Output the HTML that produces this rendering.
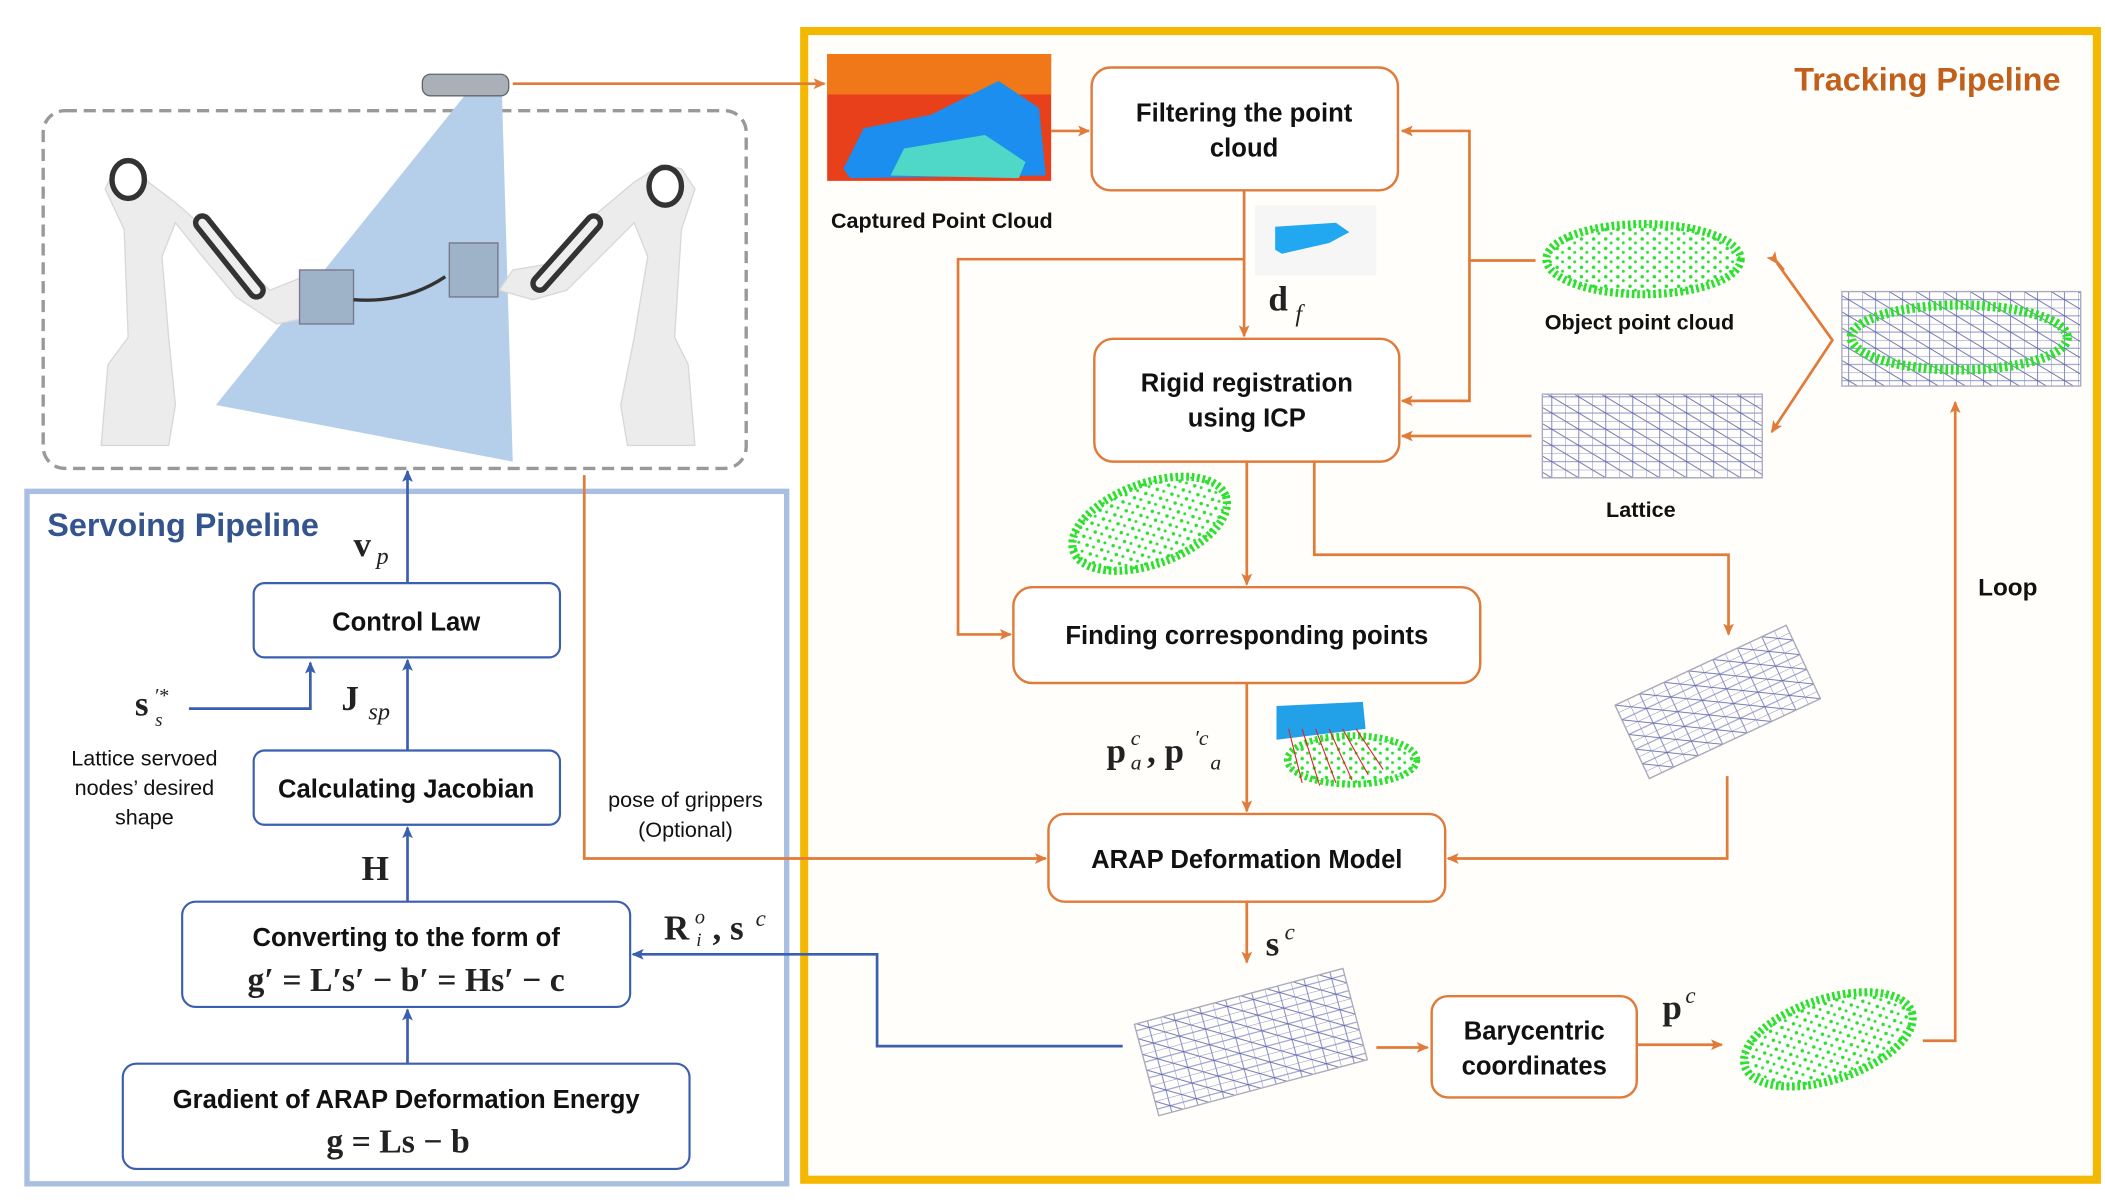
<!DOCTYPE html>
<html><head><meta charset="utf-8"><style>
html,body{margin:0;padding:0;background:#fff;}
svg{display:block;}
.t{font-family:"Liberation Sans",sans-serif;font-weight:bold;fill:#111;}
.m{font-family:"Liberation Serif",serif;font-weight:bold;fill:#222;}
.mi{font-family:"Liberation Serif",serif;font-style:italic;fill:#222;}
</style></head><body>
<svg width="2105" height="1200" viewBox="0 0 1560 889" preserveAspectRatio="none" xmlns="http://www.w3.org/2000/svg">
<defs>
<marker id="ao" markerWidth="10" markerHeight="10" refX="8" refY="5" orient="auto" markerUnits="userSpaceOnUse"><path d="M0,1 L9,5 L0,9 L2,5 z" fill="#e07b39"/></marker>
<marker id="ab" markerWidth="10" markerHeight="10" refX="8" refY="5" orient="auto" markerUnits="userSpaceOnUse"><path d="M0,1 L9,5 L0,9 L2,5 z" fill="#3b5fb0"/></marker>
<pattern id="grid" width="20" height="12" patternUnits="userSpaceOnUse"><path d="M0,0 H20 M0,6 H20 M0,0 V12 M10,0 V12" stroke="#8890c8" stroke-width="0.8" fill="none"/><path d="M0,0 L20,12" stroke="#5a60a0" stroke-width="0.6"/></pattern>
<pattern id="dots" width="9" height="7" patternUnits="userSpaceOnUse"><rect width="9" height="7" fill="#fff"/><circle cx="2" cy="2" r="1.3" fill="#2ee02e"/><circle cx="6" cy="5" r="1.1" fill="#2ee02e"/></pattern>
</defs>

<!-- Tracking pipeline frame -->
<rect x="596" y="23" width="958" height="851" fill="#fffefb" stroke="#f5b800" stroke-width="6"/>
<text x="1527" y="67" text-anchor="end" class="t" style="fill:#c0601a;font-size:24px">Tracking Pipeline</text>

<!-- Servoing frame -->
<rect x="20" y="364" width="563" height="513" fill="#fff" stroke="#a9bfe2" stroke-width="4"/>
<text x="35" y="397" class="t" style="fill:#34548f;font-size:24px">Servoing Pipeline</text>

<!-- robot scene -->
<rect x="32" y="82" width="521" height="265" rx="16" fill="#fff" stroke="#999" stroke-width="2.5" stroke-dasharray="9,5"/>
<polygon points="345,70 372,70 380,342 160,300" fill="#b5cfea"/>
<rect x="313" y="55" width="64" height="16" rx="6" fill="#aab0b8" stroke="#666" stroke-width="1"/>
<!-- left robot -->
<path d="M75,330 L80,270 L95,250 L92,170 L78,140 L85,125 L100,122 L110,135 L130,150 L170,185 L200,215 L225,205 L230,235 L205,240 L175,220 L150,190 L130,165 L120,190 L125,250 L130,300 L125,330 Z" fill="#ececec" stroke="#d8d8d8"/>
<ellipse cx="95" cy="133" rx="12" ry="14" fill="#fff" stroke="#333" stroke-width="4"/>
<path d="M150,165 L190,215" stroke="#333" stroke-width="14" stroke-linecap="round"/>
<path d="M150,165 L190,215" stroke="#eee" stroke-width="6" stroke-linecap="round"/>
<!-- right robot -->
<path d="M515,330 L510,270 L500,250 L505,170 L515,140 L505,125 L490,122 L470,135 L440,160 L410,195 L380,200 L370,215 L395,222 L420,215 L450,185 L470,165 L480,190 L470,250 L460,300 L465,330 Z" fill="#ececec" stroke="#d8d8d8"/>
<ellipse cx="493" cy="138" rx="12" ry="14" fill="#fff" stroke="#333" stroke-width="4"/>
<path d="M440,165 L400,210" stroke="#333" stroke-width="14" stroke-linecap="round"/>
<path d="M440,165 L400,210" stroke="#eee" stroke-width="6" stroke-linecap="round"/>
<!-- grippers -->
<rect x="222" y="200" width="40" height="40" fill="#9fb3c8" stroke="#778" />
<rect x="333" y="180" width="36" height="40" fill="#9fb3c8" stroke="#778"/>
<path d="M262,222 Q300,225 330,205" stroke="#333" stroke-width="2.5" fill="none"/>

<!-- camera to captured -->
<line x1="380" y1="62" x2="611" y2="62" stroke="#e07b39" stroke-width="2" marker-end="url(#ao)"/>
<!-- captured image -->
<rect x="613" y="40" width="166" height="94" fill="#e8401a"/>
<rect x="613" y="40" width="166" height="30" fill="#f07818"/>
<path d="M625,125 L640,95 L690,85 L740,60 L770,80 L775,130 L630,132 Z" fill="#1b8ef0"/>
<path d="M660,130 L670,110 L730,100 L760,120 L755,132 Z" fill="#4fd7c8"/>
<text x="698" y="169" text-anchor="middle" class="t" style="font-size:16px">Captured Point Cloud</text>

<!-- Filtering -->
<rect x="809" y="50" width="227" height="91" rx="14" fill="#fff" stroke="#e07b39" stroke-width="1.8"/>
<text x="922" y="90" text-anchor="middle" class="t" style="font-size:19px">Filtering the point</text>
<text x="922" y="116" text-anchor="middle" class="t" style="font-size:19px">cloud</text>
<line x1="779" y1="97" x2="807" y2="97" stroke="#e07b39" stroke-width="2" marker-end="url(#ao)"/>

<!-- df -->
<rect x="930" y="152" width="90" height="52" fill="#f6f6f6"/>
<path d="M945,168 L990,165 L1000,172 L985,180 L950,188 L945,185 Z" fill="#22a8f0"/>
<text x="940" y="230" class="m" style="font-size:26px">d</text><text x="960" y="238" class="mi" style="font-size:18px">f</text>

<line x1="922" y1="141" x2="922" y2="249" stroke="#e07b39" stroke-width="2" marker-end="url(#ao)"/>
<polyline points="922,192 710,192 710,470 749,470" fill="none" stroke="#e07b39" stroke-width="2" marker-end="url(#ao)"/>

<!-- Rigid -->
<rect x="811" y="251" width="226" height="91" rx="14" fill="#fff" stroke="#e07b39" stroke-width="1.8"/>
<text x="924" y="290" text-anchor="middle" class="t" style="font-size:19px">Rigid registration</text>
<text x="924" y="316" text-anchor="middle" class="t" style="font-size:19px">using ICP</text>

<!-- object point cloud -->
<ellipse cx="1218" cy="192" rx="72" ry="26" fill="url(#dots)" stroke="#2ee02e" stroke-width="6" stroke-dasharray="2,2"/>
<text x="1215" y="244" text-anchor="middle" class="t" style="font-size:16px">Object point cloud</text>
<polyline points="1138,193 1089,193 1089,97 1039,97" fill="none" stroke="#e07b39" stroke-width="2" marker-end="url(#ao)"/>
<polyline points="1089,193 1089,297 1039,297" fill="none" stroke="#e07b39" stroke-width="2" marker-end="url(#ao)"/>
<!-- lattice -->
<rect x="1143" y="292" width="163" height="62" fill="url(#grid)" stroke="#aab" stroke-width="1"/>
<text x="1216" y="383" text-anchor="middle" class="t" style="font-size:16px">Lattice</text>
<line x1="1135" y1="323" x2="1039" y2="323" stroke="#e07b39" stroke-width="2" marker-end="url(#ao)"/>
<!-- combined -->
<rect x="1365" y="216" width="177" height="70" fill="url(#grid)" stroke="#aab"/>
<ellipse cx="1452" cy="250" rx="80" ry="24" fill="none" stroke="#2ee02e" stroke-width="7" stroke-dasharray="2,2"/>
<polyline points="1317,195 1358,252 1313,320" fill="none" stroke="#e07b39" stroke-width="2" marker-start="url(#ao)" marker-end="url(#ao)"/>
<path d="M1322,200 L1316,193" stroke="#e07b39" stroke-width="2"/>

<!-- rigid outputs -->
<ellipse cx="852" cy="388" rx="60" ry="30" transform="rotate(-20 852 388)" fill="url(#dots)" stroke="#2ee02e" stroke-width="6" stroke-dasharray="2,2"/>
<line x1="924" y1="342" x2="924" y2="433" stroke="#e07b39" stroke-width="2" marker-end="url(#ao)"/>
<polyline points="974,342 974,411 1281,411 1281,470" fill="none" stroke="#e07b39" stroke-width="2" marker-end="url(#ao)"/>

<!-- Finding -->
<rect x="751" y="435" width="346" height="71" rx="14" fill="#fff" stroke="#e07b39" stroke-width="1.8"/>
<text x="924" y="477" text-anchor="middle" class="t" style="font-size:19px">Finding corresponding points</text>

<!-- transformed lattice -->
<g transform="translate(1273,520) rotate(-25)"><rect x="-70" y="-30" width="140" height="60" fill="url(#grid)" stroke="#aab"/></g>

<line x1="924" y1="506" x2="924" y2="601" stroke="#e07b39" stroke-width="2" marker-end="url(#ao)"/>
<text x="820" y="565" class="m" style="font-size:26px">p</text><text x="838" y="552" class="mi" style="font-size:16px">c</text><text x="838" y="570" class="mi" style="font-size:16px">a</text>
<text x="850" y="565" class="m" style="font-size:26px">, p</text><text x="885" y="552" class="mi" style="font-size:16px">′c</text><text x="897" y="570" class="mi" style="font-size:16px">a</text>
<ellipse cx="1002" cy="563" rx="48" ry="18" fill="url(#dots)" stroke="#2ee02e" stroke-width="5" stroke-dasharray="2,2"/>
<path d="M946,523 L1010,520 L1012,540 L946,548 Z" fill="#22a0e8"/>
<g stroke="#e02020" stroke-width="0.8"><line x1="955" y1="540" x2="965" y2="580"/><line x1="965" y1="540" x2="978" y2="582"/><line x1="975" y1="540" x2="990" y2="580"/><line x1="985" y1="540" x2="1002" y2="578"/><line x1="995" y1="540" x2="1014" y2="574"/><line x1="1005" y1="540" x2="1025" y2="570"/></g>

<!-- ARAP -->
<rect x="777" y="603" width="294" height="65" rx="12" fill="#fff" stroke="#e07b39" stroke-width="1.8"/>
<text x="924" y="643" text-anchor="middle" class="t" style="font-size:19px">ARAP Deformation Model</text>
<polyline points="1280,575 1280,636 1073,636" fill="none" stroke="#e07b39" stroke-width="2" marker-end="url(#ao)"/>
<polyline points="433,352 433,636 775,636" fill="none" stroke="#e07b39" stroke-width="2" marker-end="url(#ao)"/>
<text x="508" y="598" text-anchor="middle" class="t" style="font-size:16px;font-weight:normal">pose of grippers</text>
<text x="508" y="620" text-anchor="middle" class="t" style="font-size:16px;font-weight:normal">(Optional)</text>

<line x1="924" y1="668" x2="924" y2="713" stroke="#e07b39" stroke-width="2" marker-end="url(#ao)"/>
<text x="938" y="708" class="m" style="font-size:26px">s</text><text x="952" y="696" class="mi" style="font-size:17px">c</text>

<!-- deformed lattice -->
<g transform="translate(927,772) rotate(-15)"><rect x="-80" y="-35" width="160" height="70" fill="url(#grid)" stroke="#aab"/></g>
<line x1="1020" y1="776" x2="1058" y2="776" stroke="#e07b39" stroke-width="2" marker-end="url(#ao)"/>
<rect x="1061" y="738" width="152" height="75" rx="12" fill="#fff" stroke="#e07b39" stroke-width="1.8"/>
<text x="1137" y="770" text-anchor="middle" class="t" style="font-size:19px">Barycentric</text>
<text x="1137" y="796" text-anchor="middle" class="t" style="font-size:19px">coordinates</text>
<line x1="1213" y1="774" x2="1276" y2="774" stroke="#e07b39" stroke-width="2" marker-end="url(#ao)"/>
<text x="1232" y="755" class="m" style="font-size:26px">p</text><text x="1249" y="743" class="mi" style="font-size:17px">c</text>
<ellipse cx="1355" cy="770" rx="65" ry="30" transform="rotate(-18 1355 770)" fill="url(#dots)" stroke="#2ee02e" stroke-width="6" stroke-dasharray="2,2"/>
<polyline points="1425,771 1449,771 1449,298" fill="none" stroke="#e07b39" stroke-width="2" marker-end="url(#ao)"/>
<text x="1466" y="441" class="t" style="font-size:18px">Loop</text>

<!-- blue feedback -->
<polyline points="832,775 650,775 650,707 469,707" fill="none" stroke="#3b5fb0" stroke-width="2" marker-end="url(#ab)"/>
<text x="492" y="696" class="m" style="font-size:26px">R</text><text x="515" y="684" class="mi" style="font-size:15px">o</text><text x="516" y="701" class="mi" style="font-size:14px">i</text><text x="528" y="696" class="m" style="font-size:26px">, s</text><text x="560" y="686" class="mi" style="font-size:17px">c</text>

<!-- servoing boxes -->
<rect x="188" y="432" width="227" height="55" rx="8" fill="#fff" stroke="#3b5fb0" stroke-width="1.6"/>
<text x="301" y="467" text-anchor="middle" class="t" style="font-size:19px">Control Law</text>
<rect x="188" y="556" width="227" height="55" rx="8" fill="#fff" stroke="#3b5fb0" stroke-width="1.6"/>
<text x="301" y="591" text-anchor="middle" class="t" style="font-size:19px">Calculating Jacobian</text>
<rect x="135" y="668" width="332" height="78" rx="10" fill="#fff" stroke="#3b5fb0" stroke-width="1.6"/>
<text x="301" y="701" text-anchor="middle" class="t" style="font-size:19px">Converting to the form of</text>
<text x="301" y="734" text-anchor="middle" class="m" style="font-size:25px">g′ = L′s′ − b′ = Hs′ − c</text>
<rect x="91" y="788" width="420" height="78" rx="10" fill="#fff" stroke="#3b5fb0" stroke-width="1.6"/>
<text x="301" y="821" text-anchor="middle" class="t" style="font-size:19px">Gradient of ARAP Deformation Energy</text>
<text x="295" y="854" text-anchor="middle" class="m" style="font-size:25px">g = Ls − b</text>

<line x1="302" y1="788" x2="302" y2="748" stroke="#3b5fb0" stroke-width="2" marker-end="url(#ab)"/>
<line x1="302" y1="668" x2="302" y2="613" stroke="#3b5fb0" stroke-width="2" marker-end="url(#ab)"/>
<text x="268" y="652" class="m" style="font-size:26px">H</text>
<line x1="302" y1="556" x2="302" y2="489" stroke="#3b5fb0" stroke-width="2" marker-end="url(#ab)"/>
<text x="253" y="526" class="m" style="font-size:26px">J</text><text x="273" y="533" class="mi" style="font-size:18px">sp</text>
<line x1="302" y1="432" x2="302" y2="349" stroke="#3b5fb0" stroke-width="2" marker-end="url(#ab)"/>
<text x="262" y="412" class="m" style="font-size:26px">v</text><text x="279" y="418" class="mi" style="font-size:18px">p</text>
<polyline points="140,525 230,525 230,491" fill="none" stroke="#3b5fb0" stroke-width="2" marker-end="url(#ab)"/>
<text x="100" y="530" class="m" style="font-size:26px">s</text><text x="114" y="520" class="mi" style="font-size:15px">′*</text><text x="115" y="538" class="mi" style="font-size:14px">s</text>
<text x="107" y="567" text-anchor="middle" class="t" style="font-size:16px;font-weight:normal">Lattice servoed</text>
<text x="107" y="589" text-anchor="middle" class="t" style="font-size:16px;font-weight:normal">nodes’ desired</text>
<text x="107" y="611" text-anchor="middle" class="t" style="font-size:16px;font-weight:normal">shape</text>
</svg>
</body></html>
